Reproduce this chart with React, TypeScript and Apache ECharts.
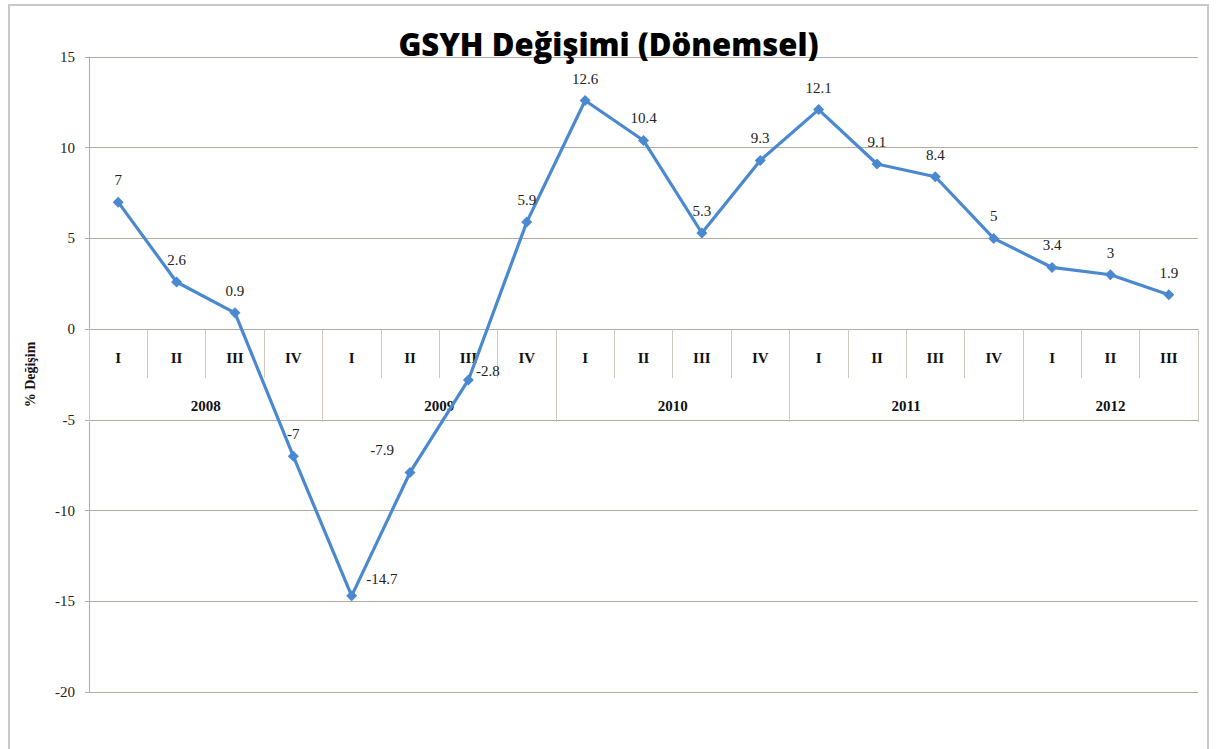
import React, { useEffect, useRef } from "react";
import * as echarts from "echarts";

const chartTitle = "GSYH Değişimi (Dönemsel)";
const yAxisName = "% Değişim";
const quarterLabels = ["I", "II", "III", "IV", "I", "II", "III", "IV", "I", "II", "III", "IV", "I", "II", "III", "IV", "I", "II", "III"];
const yearLabels = ["2008", "2009", "2010", "2011", "2012"];
const quartersPerYear = [4, 4, 4, 4, 3];
const growth = [7, 2.6, 0.9, -7, -14.7, -7.9, -2.8, 5.9, 12.6, 10.4, 5.3, 9.3, 12.1, 9.1, 8.4, 5, 3.4, 3, 1.9];
const yMin = -20;
const yMax = 15;
const yStep = 5;

// label placement per point (style only)
const labelPlacement: Record<number, { position: string; offset: number[]; distance?: number }> = {
  4: { position: "right", offset: [0, -17], distance: 9 },
  5: { position: "top", offset: [-28, 0] },
  6: { position: "right", offset: [0, -9], distance: 2 },
};

const SERIF = "'Liberation Serif', 'Times New Roman', serif";
const GRID_LEFT = 89;
const GRID_RIGHT = 19;
const GRID_TOP = 57;
const GRID_BOTTOM = 57;
const W = 1217;
const H = 749;

export default function App() {
  const ref = useRef<HTMLDivElement>(null);

  useEffect(() => {
    document.body.style.margin = "0";
    if (!ref.current) return;
    const chart = echarts.init(ref.current, null, { renderer: "svg" });

    // category → year mapping and year-label anchors
    const categoryYear: string[] = [];
    const yearStart: number[] = [];
    quartersPerYear.forEach((n, yi) => {
      yearStart.push(categoryYear.length);
      for (let k = 0; k < n; k++) categoryYear.push(yearLabels[yi]);
    });
    const yearLabelIndex: Record<number, { text: string; half: boolean }> = {};
    yearStart.forEach((s, yi) => {
      const c = s + (quartersPerYear[yi] - 1) / 2;
      const idx = Math.floor(c);
      yearLabelIndex[idx] = { text: yearLabels[yi], half: c !== idx };
    });
    const bandWidth = (W - GRID_LEFT - GRID_RIGHT) / quarterLabels.length;

    // the category band sits between y = 0 and y = -yStep of the value axis
    const plotH = H - GRID_TOP - GRID_BOTTOM;
    const zeroY = GRID_TOP + ((yMax - 0) / (yMax - yMin)) * plotH;
    const bandH = (yStep / (yMax - yMin)) * plotH;

    const data = growth.map((v, i) => {
      const p = labelPlacement[i];
      if (!p) return v;
      return {
        value: v,
        label: { position: p.position, offset: p.offset, distance: p.distance ?? 9 },
      };
    });

    const lineColor = "#b3aba3";
    const tickColor = "#cfc8c1";
    const catLabel = { fontFamily: SERIF, fontWeight: "bold", fontSize: 15, color: "#111" };

    const option: any = {
      animation: false,
      backgroundColor: "#ffffff",
      title: {
        text: chartTitle,
        left: "center",
        top: 23,
        textStyle: {
          fontFamily: "'Open Sans', sans-serif",
          fontWeight: 800,
          fontSize: 31,
          color: "#000",
        },
      },
      graphic: [
        {
          type: "rect",
          shape: { x: 9, y: 5, width: 1199, height: 746 },
          style: { fill: "none", stroke: "#c9c9c9", lineWidth: 2 },
          silent: true,
          z: -1,
        },
      ],
      grid: [
        { left: GRID_LEFT, right: GRID_RIGHT, top: GRID_TOP, bottom: GRID_BOTTOM, containLabel: false, outerBoundsMode: "none" },
        { left: GRID_LEFT, right: GRID_RIGHT, top: zeroY, height: bandH, containLabel: false, outerBoundsMode: "none" },
      ],
      xAxis: [
        {
          type: "category",
          gridIndex: 0,
          data: quarterLabels,
          boundaryGap: true,
          show: false,
        },
        {
          type: "category",
          gridIndex: 1,
          data: quarterLabels,
          boundaryGap: true,
          position: "top",
          axisLine: { show: true, onZero: false, lineStyle: { color: lineColor, width: 1 } },
          axisTick: { show: true, inside: true, interval: 0, length: 49, alignWithLabel: false, lineStyle: { color: tickColor, width: 1 } },
          axisLabel: { interval: 0, inside: true, margin: 21, ...catLabel },
          splitLine: { show: false },
        },
        {
          type: "category",
          gridIndex: 1,
          data: categoryYear,
          boundaryGap: true,
          position: "top",
          axisLine: { show: true, onZero: false, lineStyle: { color: lineColor, width: 1 } },
          axisTick: {
            show: true,
            inside: true,
            length: 93,
            alignWithLabel: false,
            interval: (i: number) => yearStart.indexOf(i) >= 0,
            lineStyle: { color: tickColor, width: 1 },
          },
          axisLabel: {
            inside: true,
            interval: (i: number) => yearLabelIndex[i] !== undefined,
            margin: 69,
            formatter: (_v: string, i: number) => {
              const e = yearLabelIndex[i];
              if (!e) return "";
              return e.half ? `{h|${e.text}}` : `{f|${e.text}}`;
            },
            rich: {
              h: { ...catLabel, padding: [0, 0, 0, bandWidth] },
              f: { ...catLabel },
            },
          },
          splitLine: { show: false },
        },
      ],
      yAxis: [
        {
          type: "value",
          gridIndex: 0,
          min: yMin,
          max: yMax,
          interval: yStep,
          name: yAxisName,
          nameLocation: "middle",
          nameGap: 52,
          nameTextStyle: { fontFamily: SERIF, fontWeight: "bold", fontSize: 14, color: "#111" },
          axisLine: { show: true, onZero: false, lineStyle: { color: lineColor, width: 1 } },
          axisTick: { show: true, length: 4, lineStyle: { color: lineColor } },
          axisLabel: { margin: 14, fontFamily: SERIF, fontSize: 15, color: "#222" },
          splitLine: { show: true, lineStyle: { color: lineColor, width: 1 } },
        },
        {
          type: "value",
          gridIndex: 1,
          min: 0,
          max: 1,
          show: false,
        },
      ],
      series: [
        {
          type: "line",
          data,
          xAxisIndex: 0,
          yAxisIndex: 0,
          symbol: "diamond",
          symbolSize: 11,
          lineStyle: { color: "#4a89cf", width: 3.2 },
          itemStyle: { color: "#4a89cf" },
          label: {
            show: true,
            position: "top",
            distance: 9,
            fontFamily: SERIF,
            fontSize: 15,
            color: "#222",
          },
          z: 5,
        },
      ],
    };

    chart.setOption(option);
    return () => chart.dispose();
  }, []);

  return <div ref={ref} style={{ width: W, height: H }} />;
}
